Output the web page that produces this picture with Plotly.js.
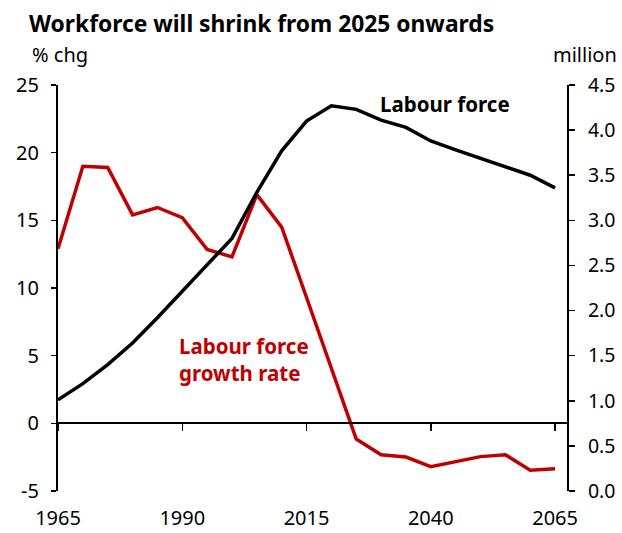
<!DOCTYPE html>
<html>
<head>
<meta charset="utf-8">
<script src="https://cdn.plot.ly/plotly-3.0.1.min.js"></script>
<style>html,body{margin:0;padding:0;background:#fff;}#chart{width:622px;height:533px;}</style>
</head>
<body>
<div id="chart"></div>
<script>
// Data
const years = [1965,1970,1975,1980,1985,1990,1995,2000,2005,2010,2015,2020,2025,2030,2035,2040,2045,2050,2055,2060,2065];
const growthRate = [12.9,19.0,18.9,15.4,15.95,15.2,12.85,12.3,16.9,14.5,9.3,4.1,-1.16,-2.32,-2.49,-3.2,-2.83,-2.46,-2.32,-3.47,-3.35];
const labourForce = [1.01,1.19,1.40,1.64,1.92,2.21,2.51,2.80,3.31,3.77,4.10,4.27,4.23,4.11,4.03,3.88,3.78,3.69,3.60,3.50,3.36];
const xTicks = [1965,1990,2015,2040,2065];
const leftTicks = [-5,0,5,10,15,20,25];
const leftTickText = ['-5','0','5','10','15','20','25'];
const rightTicks = [0,0.5,1,1.5,2,2.5,3,3.5,4,4.5];

const FONT = 'Noto Sans, Open Sans, sans-serif';
const RED = '#C00000';
const XRANGE = [1965, 2067.4];

const traces = [
  {x: years, y: growthRate, type: 'scatter', mode: 'lines', line: {color: RED, width: 3.5}, yaxis: 'y', xaxis: 'x', hoverinfo: 'skip'},
  {x: years, y: labourForce, type: 'scatter', mode: 'lines', line: {color: '#000', width: 3.5}, yaxis: 'y2', xaxis: 'x', hoverinfo: 'skip'},
  {x: [years[0]], y: [0], type: 'scatter', mode: 'markers', marker: {opacity: 0}, xaxis: 'x2', yaxis: 'y', hoverinfo: 'skip'}
];

const layout = {
  width: 622, height: 533,
  margin: {l: 58, r: 55, t: 85, b: 41.5},
  paper_bgcolor: '#fff', plot_bgcolor: '#fff',
  showlegend: false,
  font: {family: FONT, color: '#000', size: 20},
  title: {text: '<b>Workforce will shrink from 2025 onwards</b>', x: 29/622, xanchor: 'left', xref: 'container', y: 1 - 24/533, yanchor: 'middle', yref: 'container', font: {family: FONT, size: 22.8, color: '#000'}},
  xaxis: {
    range: XRANGE, tickvals: xTicks, ticktext: xTicks.map(String),
    showline: false, showgrid: false, zeroline: false, ticks: '', ticklabelstandoff: 13,
    tickfont: {family: FONT, size: 20}
  },
  xaxis2: {
    overlaying: 'x', matches: 'x', range: XRANGE, anchor: 'free', position: 1/6,
    tickvals: xTicks, showticklabels: false, ticks: 'outside', ticklen: 7, tickwidth: 1.5, tickcolor: '#000',
    showline: true, linecolor: '#000', linewidth: 2, showgrid: false, zeroline: false
  },
  yaxis: {
    range: [-5, 25], tickvals: leftTicks, ticktext: leftTickText, ticks: 'outside', ticklen: 5, tickwidth: 1.5, tickcolor: '#000',
    showline: true, linecolor: '#000', linewidth: 2, showgrid: false, zeroline: false,
    ticklabelstandoff: 8, tickfont: {family: FONT, size: 20}
  },
  yaxis2: {
    range: [0, 4.5], tickvals: rightTicks, tickformat: '.1f', overlaying: 'y', side: 'right', anchor: 'x',
    ticks: 'outside', ticklen: 6, tickwidth: 1.5, tickcolor: '#000',
    showline: true, linecolor: '#000', linewidth: 2, showgrid: false, zeroline: false,
    ticklabelstandoff: 9, tickfont: {family: FONT, size: 19.5}
  },
  annotations: [
    {text: '% chg', xref: 'paper', yref: 'paper', x: (30-58)/509, y: (491.5-54)/406.5, xanchor: 'left', yanchor: 'middle', showarrow: false, font: {family: FONT, size: 20}},
    {text: 'million', xref: 'paper', yref: 'paper', x: (619-58)/509, y: (491.5-54)/406.5, xanchor: 'right', yanchor: 'middle', showarrow: false, font: {family: FONT, size: 20}},
    {text: '<b>Labour force</b>', xref: 'x', yref: 'y', x: 2029.3, y: 23.6, xanchor: 'left', yanchor: 'middle', showarrow: false, font: {family: FONT, size: 20.5, color: '#000'}},
    {text: '<b>Labour force<br>growth rate</b>', xref: 'x', yref: 'y', x: 1988.9, y: 4.7, xanchor: 'left', yanchor: 'middle', align: 'left', showarrow: false, font: {family: FONT, size: 20.5, color: RED}}
  ]
};

Plotly.newPlot('chart', traces, layout, {staticPlot: true, displayModeBar: false});
</script>
</body>
</html>
